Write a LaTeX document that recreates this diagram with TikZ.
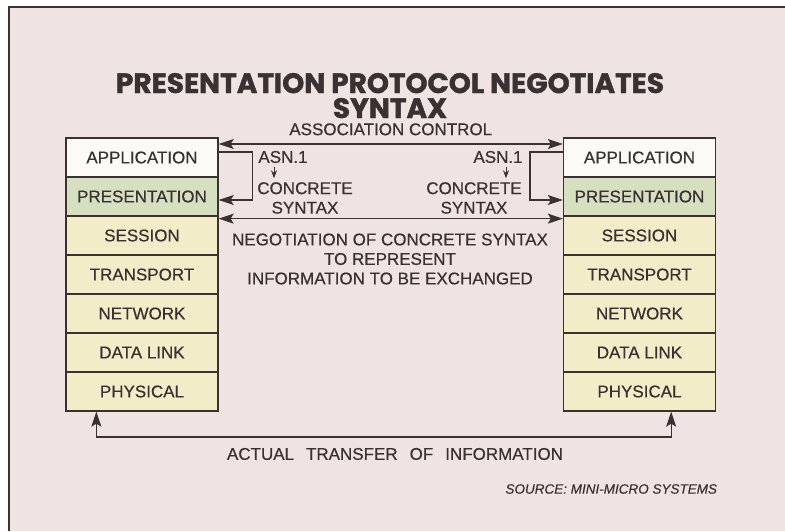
\documentclass[tikz,border=0pt]{standalone}
\usepackage{fontspec}
\setmainfont{Liberation Sans}[UprightFeatures={FakeBold=0.5},ItalicFeatures={FakeBold=0.4}]
\newfontfamily\titlefont{Poppins}[BoldFeatures={FakeBold=1.5}]
\usetikzlibrary{arrows.meta}
\definecolor{paper}{HTML}{EFE4E1}
\definecolor{ink}{HTML}{3A3132}
\definecolor{appfill}{HTML}{FBFAF4}
\definecolor{presfill}{HTML}{D6DFBF}
\definecolor{lowfill}{HTML}{F3ECC8}
\begin{document}
\begin{tikzpicture}[x=1pt,y=-1pt,line width=1.3pt,color=ink,
  font=\fontsize{17}{19.5}\selectfont,
  tip/.style={-{Stealth[length=15pt,width=10pt,inset=3pt]}},
  dbltip/.style={{Stealth[length=15pt,width=10pt,inset=3pt]}-{Stealth[length=15pt,width=10pt,inset=3pt]}},
  layer/.style={draw=ink,minimum width=152pt,minimum height=39pt,inner sep=0pt,fill=lowfill},
  heading/.style={font=\titlefont\bfseries\fontsize{28}{26.5}\selectfont,inner sep=0pt,anchor=base},
  small/.style={-{Stealth[length=8pt,width=6pt]},line width=1pt}]
  \useasboundingbox (0,0) rectangle (785,531);
  \fill[white!97!paper] (0,0) rectangle (785,531);
  \fill[paper] (9,7) rectangle (785,531);
  \draw[line width=1.8pt] (9,531) -- (9,7) -- (785,7);
  \node[heading] (title) at (390,93) {PRESENTATION PROTOCOL NEGOTIATES};
  \node[heading] (subtitle) at (390,118) {SYNTAX};
  % left stack
  \node[layer,fill=appfill] (lapp) at (142,157.5) {APPLICATION};
  \node[layer,fill=presfill] (lpres) at (142,196.5) {PRESENTATION};
  \node[layer] (lses) at (142,235.5) {SESSION};
  \node[layer] (ltrans) at (142,274.5) {TRANSPORT};
  \node[layer] (lnet) at (142,313.5) {NETWORK};
  \node[layer] (ldl) at (142,352.5) {DATA LINK};
  \node[layer] (lphy) at (142,391.5) {PHYSICAL};
  % right stack
  \node[layer,fill=appfill] (rapp) at (639.5,157.5) {APPLICATION};
  \node[layer,fill=presfill] (rpres) at (639.5,196.5) {PRESENTATION};
  \node[layer] (rses) at (639.5,235.5) {SESSION};
  \node[layer] (rtrans) at (639.5,274.5) {TRANSPORT};
  \node[layer] (rnet) at (639.5,313.5) {NETWORK};
  \node[layer] (rdl) at (639.5,352.5) {DATA LINK};
  \node[layer] (rphy) at (639.5,391.5) {PHYSICAL};
  % association control
  \draw[dbltip] ([yshift=13.5pt]lapp.east) -- ([yshift=13.5pt]rapp.west)
    node[midway,above=8pt,inner sep=0pt] (assoc) {ASSOCIATION CONTROL};
  \draw[tip] ([yshift=5.5pt]lapp.east) -- ++(34,0) |- ([yshift=-3.5pt]lpres.east);
  \draw[tip] ([yshift=5.5pt]rapp.west) -- ++(-33,0) |- ([yshift=-3.5pt]rpres.west);
  \node (lasn) at (283,157) {ASN.1};
  \node[align=center] (lcon) at (305,198) {CONCRETE\\SYNTAX};
  \draw[small] ([xshift=-9pt]lasn.south) -- ([xshift=-9pt]lasn.south |- lcon.north);
  \node (rasn) at (498,157) {ASN.1};
  \node[align=center] (rcon) at (474,198) {CONCRETE\\SYNTAX};
  \draw[small] ([xshift=8pt]rasn.south) -- ([xshift=8pt]rasn.south |- rcon.north);
  % negotiation
  \draw[dbltip] ([yshift=-2pt]lpres.south east) -- ([yshift=-2pt]rpres.south west);
  \node[align=center] (nego) at (390,259)
    {NEGOTIATION OF CONCRETE SYNTAX\\TO REPRESENT\\INFORMATION TO BE EXCHANGED};
  % actual transfer
  \coordinate (base) at (390,437);
  \draw[dbltip] ([xshift=31pt]lphy.south west) |- (base) -| ([xshift=-45pt]rphy.south east);
  \node (actual) at (395,454) {\spaceskip=12pt ACTUAL TRANSFER OF INFORMATION};
  \node[anchor=east,font=\itshape\fontsize{13.5}{15}\selectfont] (source) at (721,489)
    {SOURCE: MINI-MICRO SYSTEMS};
\end{tikzpicture}
\end{document}
